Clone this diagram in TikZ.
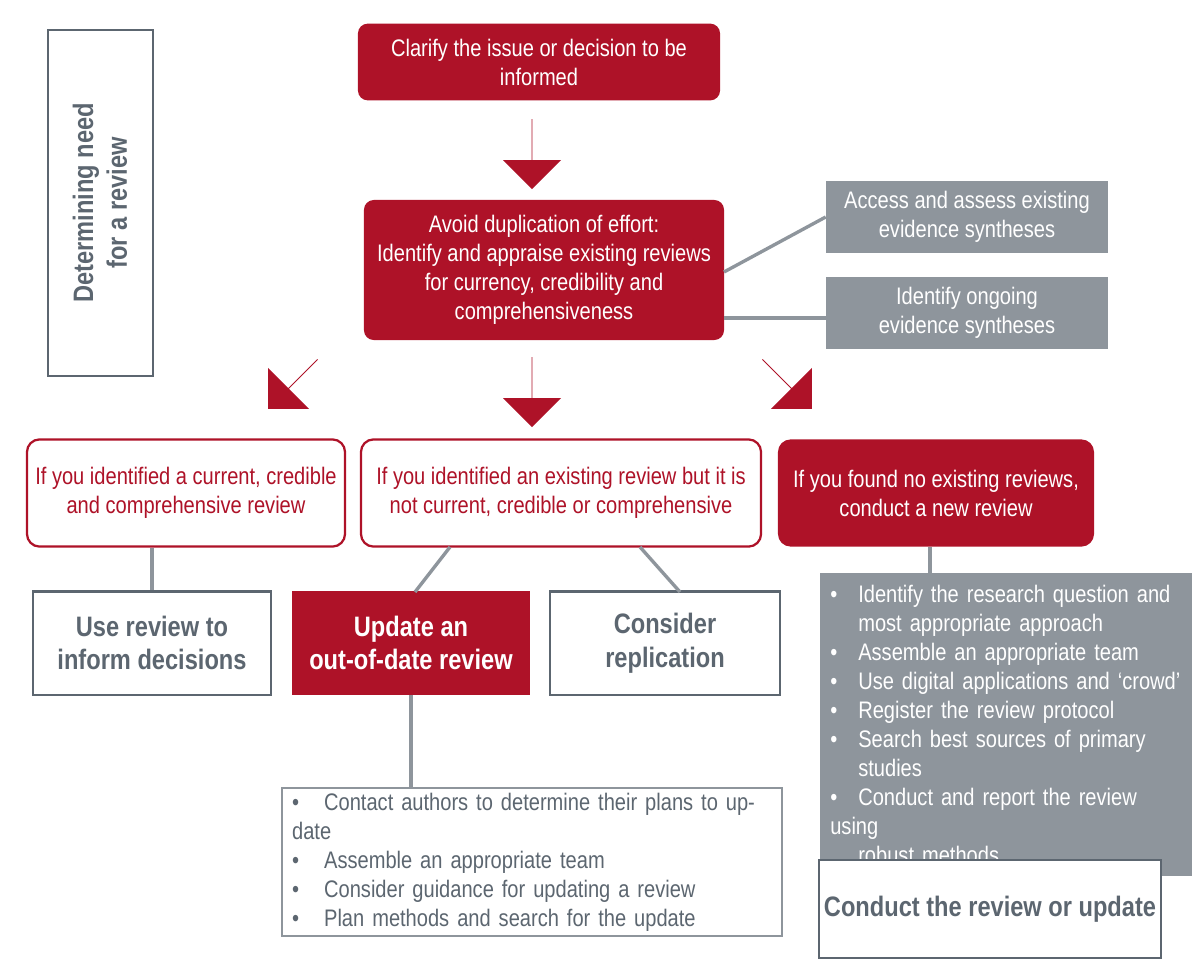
\documentclass[tikz,border=0pt]{standalone}
\usepackage{fontspec}
\setmainfont{Liberation Sans}[FakeStretch=0.84]
\usetikzlibrary{shapes.arrows}
\definecolor{cred}{HTML}{AE1228}
\definecolor{cgrey}{HTML}{8E959C}
\definecolor{cdark}{HTML}{5C6670}
\newcommand\itm{\makebox[0.7cm][l]{\textcolor{white}{\textbullet}}}
\newcommand\itmb{\makebox[0.8cm][l]{\textcolor{cdark}{\textbullet}}}
\tikzset{
  txt/.style={font=\fontsize{17}{20.6}\selectfont},
  big/.style={font=\fontsize{20}{24}\selectfont\bfseries},
  redbox/.style={fill=cred, rounded corners=7pt, text=white, txt, align=center},
  redline/.style={draw=cred, line width=1.6pt, fill=white, rounded corners=9pt, text=cred, txt, align=center},
  greybox/.style={fill=cgrey, text=white, txt, align=center},
  outbox/.style={draw=cdark, line width=1.6pt, fill=white, text=cdark, big, align=center},
  link/.style={draw=cgrey, line width=2.4pt},
  barrow/.style={single arrow, fill=cred, minimum height=1.75cm, minimum width=1.45cm,
    single arrow head extend=0.47cm, inner sep=0pt}
}
\begin{document}
\begin{tikzpicture}[x=0.025cm,y=-0.025cm]
\useasboundingbox (0,0) rectangle (1200,960);
% side label
\draw[draw=cdark, line width=1.6pt] (48,30) rectangle (153,376);
\node[rotate=90, text=cdark, big, align=center] (side) at (100,203) {Determining need\\for a review};
% top
\node[redbox, minimum width=9.05cm, minimum height=1.92cm] (clar) at (539,62) {Clarify the issue or decision to be\\informed};
\node[barrow, rotate=-90] (a1) at (532,154) {};
\node[redbox, minimum width=9cm, minimum height=3.5cm] (avoid) at (544,270) {Avoid duplication of effort:\\Identify and appraise existing reviews\\for currency, credibility and\\comprehensiveness};
\node[greybox, minimum width=7.05cm, minimum height=1.82cm] (acc) at (967,217) {Access and assess existing\\evidence syntheses};
\node[greybox, minimum width=7.05cm, minimum height=1.8cm] (ong) at (967,313) {Identify ongoing\\evidence syntheses};
\coordinate (av1) at (724,272);
\coordinate (av2) at (724,318);
\draw[link] (av1) -- (acc.west);
\draw[link] (av2) -- (av2 -| ong.west);
% arrows
\node[barrow, rotate=-135] (a2) at (293,384) {};
\node[barrow, rotate=-90] (a3) at (532,392) {};
\node[barrow, rotate=-45] (a4) at (787,384) {};
% second row
\node[redline, minimum width=7.95cm, minimum height=2.68cm] (cur) at (186,493) {If you identified a current, credible\\and comprehensive review};
\node[redline, minimum width=10cm, minimum height=2.68cm] (old) at (561,493) {If you identified an existing review but it is\\not current, credible or comprehensive};
\node[redbox, rounded corners=9pt, minimum width=7.9cm, minimum height=2.68cm] (none) at (936,493) {If you found no existing reviews,\\conduct a new review};
% third row
\node[outbox, minimum width=5.95cm, minimum height=2.58cm] (use) at (152,643) {Use review to\\inform decisions};
\node[fill=cred, text=white, big, align=center, minimum width=5.95cm, minimum height=2.58cm] (upd) at (411,643) {Update an\\out-of-date review};
\node[outbox, minimum width=5.75cm, minimum height=2.58cm] (rep) at (665,643) {Consider\\replication};
\draw[link] (cur.south -| use.north) -- (use.north);
\coordinate (o1) at (450,547);
\coordinate (o2) at (640,547);
\coordinate (u1) at (415,592);
\coordinate (r1) at (680,592);
\draw[link] (o1) -- (u1);
\draw[link] (o2) -- (r1);
% new review list
\node[fill=cgrey, text=white, txt, align=left, anchor=north west, minimum width=9.3cm, minimum height=6.98cm, inner xsep=0.25cm, inner ysep=0.3cm, text width=8.8cm] (list) at (820,573)
{\itm Identify the research question and\\\hspace*{0.7cm}most appropriate approach\\\itm Assemble an appropriate team\\\itm Use digital applications and ‘crowd’\\\itm Register the review protocol\\\itm Search best sources of primary\\\hspace*{0.7cm}studies\\\itm Conduct and report the review using\\\hspace*{0.7cm}robust methods};
\draw[link] (none.south -| 930,0) -- (930,573);
% update list
\node[draw=cgrey, line width=1.6pt, fill=white, text=cdark, txt, align=left, anchor=north west, minimum width=12.5cm, minimum height=3.38cm, text width=12cm, inner xsep=0.2cm] (ulist) at (281,787)
{\itmb Contact authors to determine their plans to update\\\itmb Assemble an appropriate team\\\itmb Consider guidance for updating a review\\\itmb Plan methods and search for the update};
\draw[link] (upd.south) -- (upd.south |- ulist.north);
% final
\node[outbox, minimum width=8.55cm, minimum height=2.45cm] (cond) at (990,909) {Conduct the review or update};
\end{tikzpicture}
\end{document}
